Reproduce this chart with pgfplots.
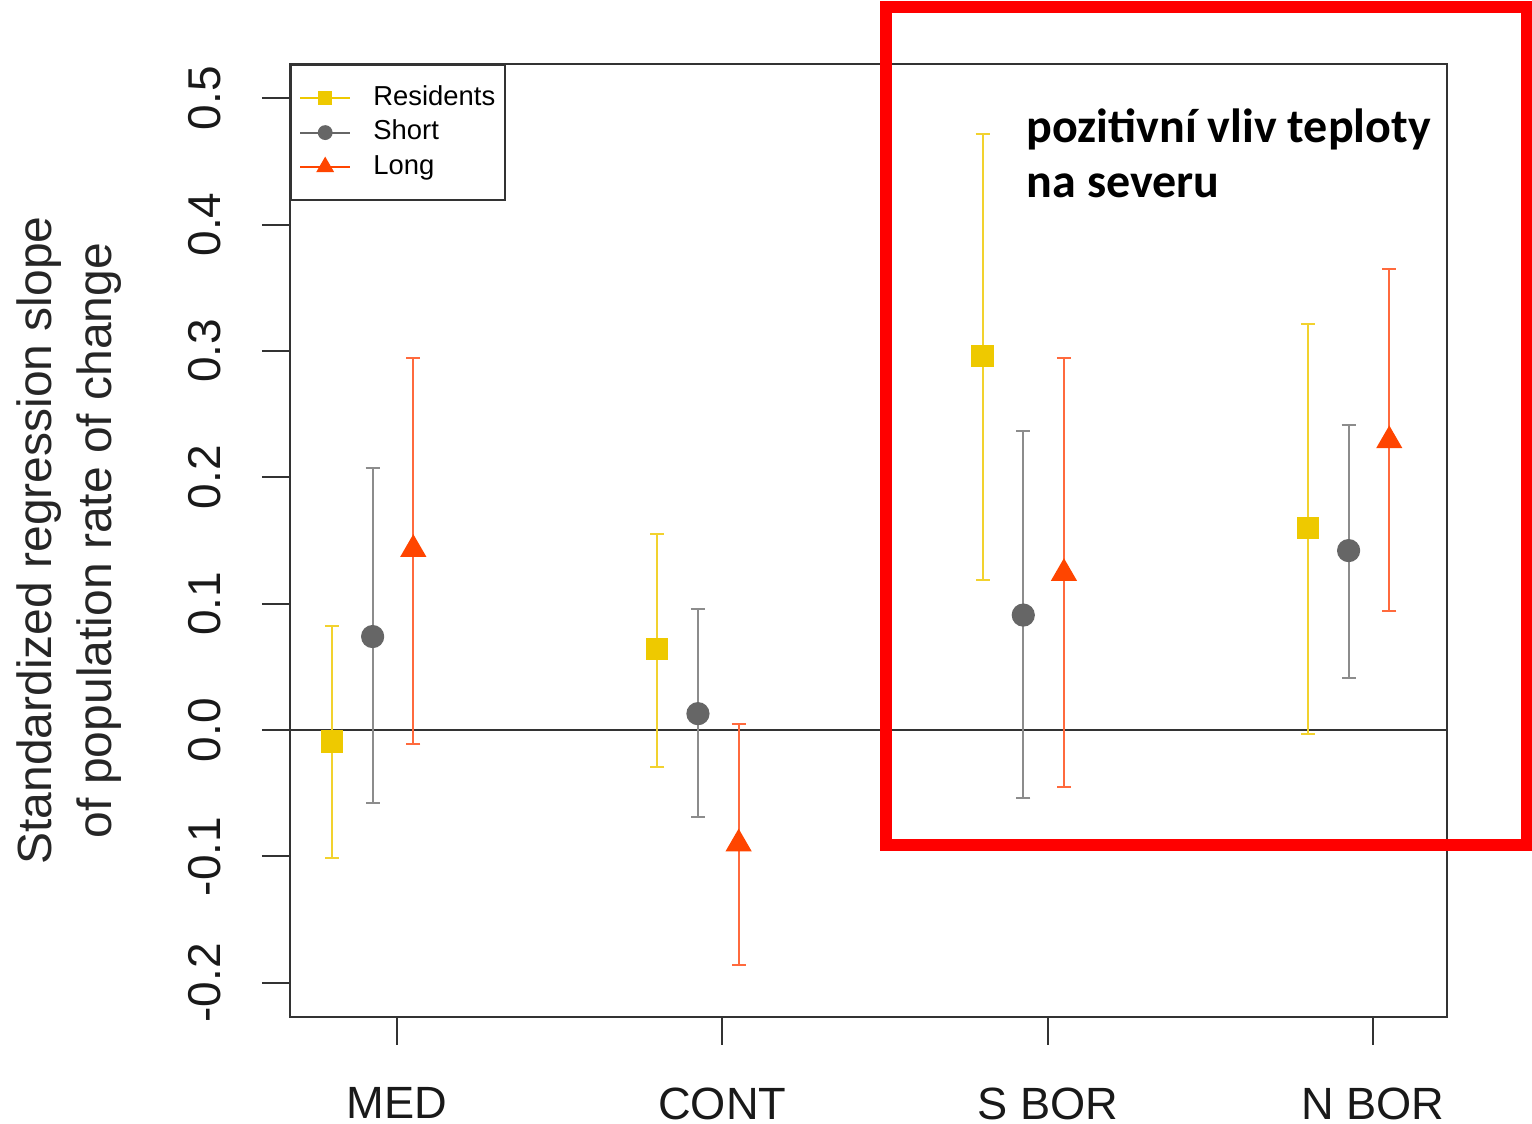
\documentclass[border=0pt]{standalone}
\usepackage{fontspec}
\setmainfont{Liberation Sans}
\newfontfamily\notefont{Carlito}
\usepackage{pgfplots}
\usepackage{pgfplotstable}
\pgfplotsset{compat=1.18}

\definecolor{resid}{HTML}{EEC900}
\definecolor{residbar}{HTML}{F2D22E}
\definecolor{shortc}{HTML}{666666}
\definecolor{shortbar}{HTML}{8C8C8C}
\definecolor{longc}{HTML}{FF4500}
\definecolor{longbar}{HTML}{FF6A3D}
\definecolor{framec}{HTML}{333333}

% estimate, lower and upper confidence limit per region
\pgfplotstableread{
x     y      lo      hi
0.800 -0.009 -0.101  0.082
1.800  0.064 -0.029  0.155
2.800  0.296  0.119  0.472
3.800  0.160 -0.003  0.321
}\residents
\pgfplotstableread{
x     y      lo      hi
0.925  0.074 -0.058  0.207
1.925  0.013 -0.069  0.096
2.925  0.091 -0.054  0.237
3.925  0.142  0.041  0.241
}\shortdist
\pgfplotstableread{
x     y      lo      hi
1.050  0.143 -0.011  0.294
2.050 -0.090 -0.186  0.005
3.050  0.124 -0.045  0.294
4.050  0.229  0.094  0.365
}\longdist

\pgfplotsset{
  ci/.style={error bars/.cd, y dir=both, y explicit, error mark=|,
    error bar style={#1, line width=0.5pt},
    error mark options={#1, mark size=1.75pt, line width=0.5pt}},
}

\begin{document}
\begin{tikzpicture}
\useasboundingbox (0,0) rectangle (383pt,281pt);
\begin{axis}[
  at={(72.5pt,26.75pt)}, anchor=south west,
  scale only axis, width=289.25pt, height=238.25pt,
  xmin=0.671, xmax=4.2275, ymin=-0.227, ymax=0.527,
  axis line style={draw=framec, line width=0.5pt},
  xtick={1,2,3,4}, xticklabels={MED,CONT,S BOR,N BOR},
  ytick={-0.2,-0.1,0,0.1,0.2,0.3,0.4,0.5},
  yticklabels={-0.2,-0.1,0.0,0.1,0.2,0.3,0.4,0.5},
  xtick pos=left, ytick pos=left,
  tick align=outside, major tick length=7pt,
  tick style={draw=framec, line width=0.5pt},
  xticklabel style={font=\fontsize{11.3}{13}\selectfont, anchor=north, inner sep=0pt, text=black!90},
  xticklabel shift=10.5pt,
  yticklabel style={font=\fontsize{11.5}{13}\selectfont, rotate=90, anchor=south, inner sep=0pt, text=black!90},
  yticklabel shift=10pt,
  ylabel={Standardized regression slope\\of population rate of change},
  every axis y label/.style={at={(axis description cs:-0.145,0.5)}, rotate=90, anchor=south,
    align=center, inner sep=0pt, font=\fontsize{12}{15}\selectfont, text=black!85},
  legend style={at={(0,1)}, anchor=north west, draw=framec, line width=0.5pt,
    font=\fontsize{6.85}{8}\selectfont, inner xsep=2pt, inner ysep=4.4pt, row sep=0.8pt,
    nodes={inner xsep=0.5pt, inner ysep=0.6pt, text height=5.1pt, text depth=1.5pt},
    /tikz/every odd column/.append style={column sep=5pt}},
  legend cell align=left,
  legend image code/.code={\draw[mark repeat=2,mark phase=2,#1] plot coordinates {(0pt,0pt) (6.3pt,0pt) (12.6pt,0pt)};},
]
\addlegendimage{resid, line width=0.5pt, mark=square*, mark size=1.5pt}
\addlegendentry{Residents}
\addlegendimage{shortc, line width=0.5pt, mark=*, mark size=1.6pt}
\addlegendentry{Short}
\addlegendimage{longc, line width=0.5pt, mark=triangle*, mark size=2.1pt}
\addlegendentry{Long}

% zero reference line
\addplot[framec, line width=0.5pt, forget plot] coordinates {(0.671,0) (4.2275,0)};

\addplot[forget plot, only marks, mark=square*, mark size=2.6pt, color=resid, ci=residbar]
  table[x=x, y=y, y error plus expr=\thisrow{hi}-\thisrow{y}, y error minus expr=\thisrow{y}-\thisrow{lo}] {\residents};
\addplot[forget plot, only marks, mark=*, mark size=2.7pt, color=shortc, ci=shortbar]
  table[x=x, y=y, y error plus expr=\thisrow{hi}-\thisrow{y}, y error minus expr=\thisrow{y}-\thisrow{lo}] {\shortdist};
\addplot[forget plot, only marks, mark=triangle*, mark size=3.4pt, color=longc, ci=longbar]
  table[x=x, y=y, y error plus expr=\thisrow{hi}-\thisrow{y}, y error minus expr=\thisrow{y}-\thisrow{lo}] {\longdist};
\end{axis}

% highlighted northern regions
\draw[red, line width=3pt] (221.5pt,69.75pt) rectangle (381.75pt,279.25pt);
\node[anchor=base west, inner sep=0pt, font=\notefont\bfseries\fontsize{12}{13}\selectfont] at (256.5pt,245.25pt) {pozitivní vliv teploty};
\node[anchor=base west, inner sep=0pt, font=\notefont\bfseries\fontsize{12}{13}\selectfont] at (256.5pt,231.5pt) {na severu};
\end{tikzpicture}
\end{document}
